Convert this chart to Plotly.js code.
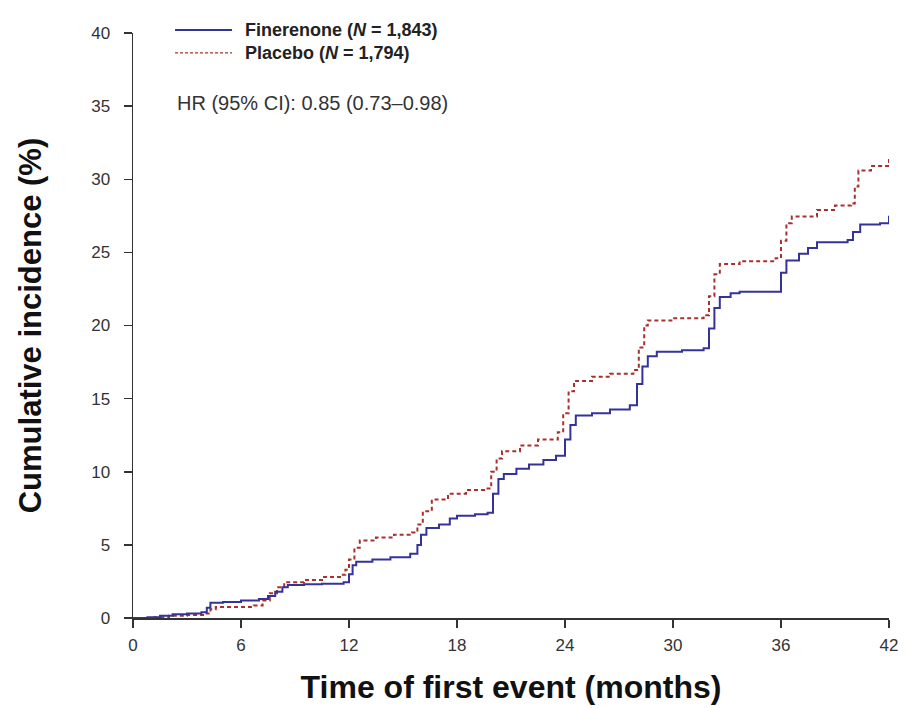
<!DOCTYPE html>
<html>
<head>
<meta charset="utf-8">
<script src="https://cdn.plot.ly/plotly-3.0.1.min.js"></script>
<style>html,body{margin:0;padding:0;background:#fff;}#chart{width:910px;height:708px;}</style>
</head>
<body>
<div id="chart"></div>
<script>
// Finerenone arm: time (months) and cumulative incidence (%)
const fineTime = [0,0.8,1.5,2.2,3.0,3.8,4.1,4.3,5.0,6.0,7.0,7.5,7.9,8.3,8.6,9.5,10.5,11.7,12.0,12.2,12.4,13.3,14.3,15.4,15.8,16.0,16.3,17.0,17.6,18.0,19.0,19.7,20.0,20.3,20.6,21.3,22.0,22.8,23.5,24.0,24.3,24.6,25.5,26.5,27.6,28.0,28.3,28.6,29.1,30.5,31.7,32.0,32.3,32.6,33.2,33.7,35.7,36.0,36.3,37.0,37.5,38.0,39.7,40.0,40.4,41.5,42.0];
const fineInc  = [0,0.05,0.15,0.25,0.3,0.4,0.7,1.05,1.1,1.2,1.3,1.5,1.8,2.1,2.25,2.3,2.35,2.45,3.0,3.6,3.85,4.0,4.15,4.4,5.0,5.7,6.15,6.4,6.8,7.0,7.1,7.2,8.5,9.5,9.85,10.2,10.5,10.8,11.1,12.2,13.2,13.85,14.0,14.25,14.55,16.0,17.2,17.9,18.2,18.3,18.45,19.8,21.2,21.95,22.2,22.3,22.3,23.6,24.45,24.9,25.3,25.7,25.85,26.4,26.9,27.0,27.5];
// Placebo arm
const placTime = [0,1.0,2.0,3.0,4.0,4.3,4.6,6.7,7.2,7.6,8.0,8.4,9.5,10.5,11.5,11.8,12.0,12.3,12.6,13.5,14.5,15.5,15.8,16.1,16.6,17.5,18.5,19.6,19.9,20.2,20.5,21.5,22.5,23.6,23.9,24.2,24.5,25.5,26.5,27.8,28.1,28.4,28.6,30.0,31.7,32.0,32.3,32.6,33.7,35.7,36.0,36.3,36.6,38.0,39.0,39.9,40.1,40.3,41.0,42.0];
const placInc  = [0,0.05,0.15,0.2,0.3,0.6,0.75,0.85,1.2,1.7,2.1,2.45,2.6,2.8,2.95,3.3,4.0,4.8,5.3,5.5,5.7,5.85,6.4,7.3,8.1,8.5,8.75,8.85,10.0,10.9,11.4,11.8,12.2,12.7,14.0,15.5,16.2,16.5,16.7,16.95,18.5,20.0,20.35,20.5,20.7,22.0,23.5,24.2,24.4,24.6,25.8,27.0,27.45,27.9,28.2,28.35,29.5,30.6,30.9,31.5];

const seriesNames = ['Finerenone (<i>N</i> = 1,843)', 'Placebo (<i>N</i> = 1,794)'];
const hrText = 'HR (95% CI): 0.85 (0.73–0.98)';
const xTicks = [0,6,12,18,24,30,36,42];
const yTicks = [0,5,10,15,20,25,30,35,40];

const blue = '#34339a';
const red = '#a8302e';

const traces = [
  {x: placTime, y: placInc, type: 'scatter', mode: 'lines', line: {shape: 'hv', color: red, width: 2, dash: '4px,3px'}, showlegend: false, hoverinfo: 'skip'},
  {x: fineTime, y: fineInc, type: 'scatter', mode: 'lines', line: {shape: 'hv', color: blue, width: 2}, showlegend: false, hoverinfo: 'skip'}
];

const tickFont = {family: '"Liberation Sans Narrow", "Liberation Sans", Arial, sans-serif', size: 17, color: '#333'};
const txtFont = 'Arial, "Liberation Sans", sans-serif';

const layout = {
  width: 910, height: 708,
  margin: {l: 133, r: 21, t: 33, b: 90},
  paper_bgcolor: '#fff', plot_bgcolor: '#fff',
  xaxis: {
    range: [0, 42], tickvals: xTicks, ticktext: xTicks.map(String),
    showgrid: false, zeroline: false, showline: true, linecolor: '#333', linewidth: 1.5,
    ticks: 'outside', ticklen: 8, tickwidth: 1.5, tickcolor: '#333', ticklabelstandoff: 3,
    tickfont: tickFont,
    title: {text: '<b>Time of first event (months)</b>', font: {family: txtFont, size: 32, color: '#111'}, standoff: 21}
  },
  yaxis: {
    range: [0, 40], tickvals: yTicks, ticktext: yTicks.map(String),
    showgrid: false, zeroline: false, showline: true, linecolor: '#333', linewidth: 1.5,
    ticks: 'outside', ticklen: 8, tickwidth: 1.5, tickcolor: '#333', ticklabelstandoff: 10,
    tickfont: tickFont,
    title: {text: '<b>Cumulative incidence (%)</b>', font: {family: txtFont, size: 31, color: '#111'}, standoff: 40}
  },
  shapes: [
    {type: 'line', xref: 'paper', yref: 'paper', x0: 0.0556, x1: 0.131, y0: 1.005, y1: 1.005, line: {color: blue, width: 2}},
    {type: 'line', xref: 'paper', yref: 'paper', x0: 0.0556, x1: 0.131, y0: 0.966, y1: 0.966, line: {color: red, width: 1.2, dash: '3px,2px'}}
  ],
  annotations: [
    {xref: 'paper', yref: 'paper', x: 0.1455, y: 0.9855, xanchor: 'left', yanchor: 'middle', align: 'left', showarrow: false,
     text: '<b>' + seriesNames[0] + '</b><br><b>' + seriesNames[1] + '</b>', font: {family: txtFont, size: 18, color: '#222'}},
    {xref: 'paper', yref: 'paper', x: 0.0556, y: 0.880, xanchor: 'left', yanchor: 'middle', showarrow: false, text: hrText, font: {family: txtFont, size: 20, color: '#333'}}
  ]
};

Plotly.newPlot('chart', traces, layout, {staticPlot: true, displayModeBar: false});
</script>
</body>
</html>
